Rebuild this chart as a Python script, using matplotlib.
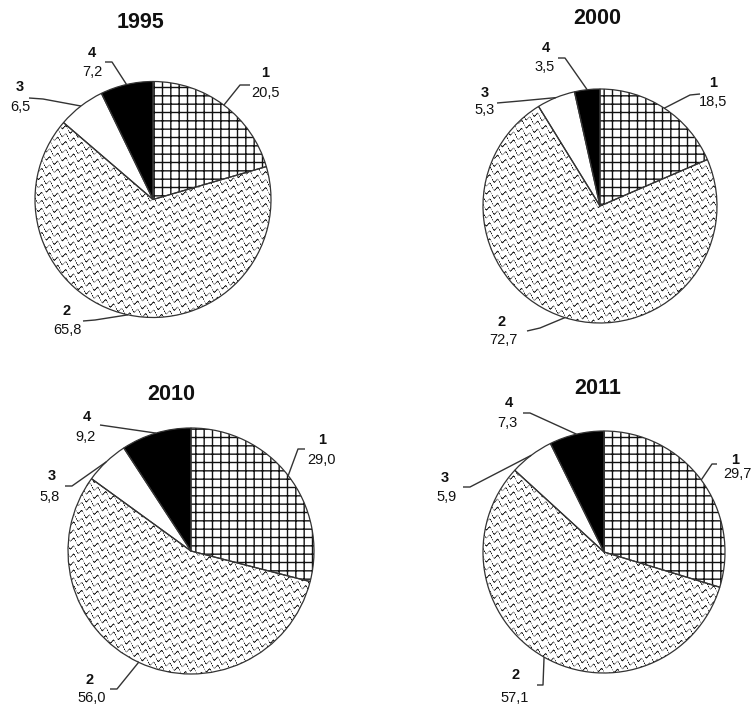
import numpy as np
import matplotlib
matplotlib.use('Agg')
import matplotlib.pyplot as plt

# ---------------- data ----------------
years = ['1995', '2000', '2010', '2011']
categories = ['1', '2', '3', '4']
v1995 = [20.5, 65.8, 6.5, 7.2]
v2000 = [18.5, 72.7, 5.3, 3.5]
v2010 = [29.0, 56.0, 5.8, 9.2]
v2011 = [29.7, 57.1, 5.9, 7.3]
values = [v1995, v2000, v2010, v2011]

# ---------------- layout (pixel coords, y down) ----------------
W, H = 752, 708
centers = [(153, 199.5), (600, 206), (191, 551), (604, 552)]
radii = [118, 117, 123, 121]
title_xy = [(140, 22), (597, 18), (171, 394), (598, 388)]
num_xy = [
    [(265, 73), (67, 311), (20, 87), (92, 53)],
    [(713, 83), (502, 322), (485, 93), (546, 48)],
    [(322, 440), (90, 680), (52, 476), (87, 417)],
    [(735, 460), (516, 675), (445, 478), (509, 403)],
]
val_xy = [
    [(265, 93), (67, 330), (20, 107), (92, 72)],
    [(713, 102), (503, 340), (485, 110), (545, 67)],
    [(322, 460), (92, 698), (50, 497), (85, 437)],
    [(737, 474), (515, 698), (447, 497), (507, 423)],
]
lead_start = [
    [(250, 85), (83, 321), (29, 98), (105, 62)],
    [(700, 94), (527, 331), (497, 103), (558, 58)],
    [(305, 449), (110, 689), (65, 486), (100, 425)],
    [(717, 464), (537, 685), (463, 487), (523, 413)],
]
lead_elbow = [
    [(240, 85), (95, 320), (43, 99), (112, 62)],
    [(690, 95), (540, 328), (520, 101), (565, 58)],
    [(298, 449), (117, 689), (72, 486), (107, 426)],
    [(712, 464), (543, 685), (470, 487), (530, 413)],
]

TXT = '#111111'
FONT = 'Liberation Sans'
plt.rcParams['font.family'] = [FONT, 'DejaVu Sans']
plt.rcParams['hatch.linewidth'] = 1.0
plt.rcParams['hatch.color'] = '#111111'


def P(x, y):
    return x, H - y


def wave_texture(x0, x1, y0, y1):
    X, Y = np.meshgrid(np.arange(x0, x1) + 0.5, np.arange(y0, y1) + 0.5)
    period = 8.0
    u = Y - 0.55 * X + 2.3 * np.sin(2 * np.pi * X / 8.0)
    m = np.mod(u, period) - period / 2
    dark = np.clip(1.25 - np.abs(m) / 0.95, 0, 1)
    # break the lines into short strokes
    gap = 0.5 + 0.5 * np.cos(2 * np.pi * (X + 0.5 * Y) / 8.0)
    dark = dark * np.clip(0.35 + gap, 0, 1)
    return 1.0 - 0.92 * dark


fig = plt.figure(figsize=(W / 100, H / 100), dpi=100)
ax = fig.add_axes([0, 0, 1, 1])

for i, vals in enumerate(values):
    cx, cy = centers[i]
    r = radii[i]
    c = P(cx, cy)
    wedges, _ = ax.pie(vals, center=c, radius=r, startangle=90,
                       counterclock=False, frame=True,
                       colors=['white', 'white', 'white', 'black'],
                       wedgeprops=dict(linewidth=0))
    wedges[0].set_hatch('++')
    wedges[0].set_edgecolor('#111111')
    wedges[0].set_linewidth(0)
    # wavy texture for category 2
    x0, x1 = int(cx - r - 2), int(cx + r + 3)
    y0, y1 = int(cy - r - 2), int(cy + r + 3)
    tex = wave_texture(x0, x1, y0, y1)
    im = ax.imshow(tex, cmap='gray', vmin=0, vmax=1, interpolation='nearest',
                   extent=(x0, x1, H - y1, H - y0), origin='upper', zorder=1.5)
    im.set_clip_path(wedges[1])
    # outlines
    ax.pie(vals, center=c, radius=r, startangle=90, counterclock=False,
           frame=True, wedgeprops=dict(fill=False, edgecolor='#333333',
                                       linewidth=0.9, zorder=3))
    # title
    tx, ty = title_xy[i]
    ax.text(*P(tx, ty), years[i], ha='center', va='center', fontsize=15.5,
            fontweight='bold', color=TXT)
    # labels and leaders
    for j, w in enumerate(wedges):
        mid = np.deg2rad((w.theta1 + w.theta2) / 2)
        ex, ey = c[0] + r * np.cos(mid), c[1] + r * np.sin(mid)
        sx, sy = P(*lead_start[i][j])
        bx, by = P(*lead_elbow[i][j])
        ax.plot([sx, bx, ex], [sy, by, ey], color='#333333', lw=1.0,
                zorder=4, solid_capstyle='butt')
        ax.text(*P(*num_xy[i][j]), categories[j], ha='center', va='center',
                fontsize=10.5, fontweight='bold', color=TXT)
        ax.text(*P(*val_xy[i][j]), f'{vals[j]:.1f}'.replace('.', ','),
                ha='center', va='center', fontsize=10.5, color=TXT)

ax.set_xlim(0, W)
ax.set_ylim(0, H)
ax.set_aspect('auto')
ax.set_axis_off()
fig.savefig('out.png', dpi=100, facecolor='white')
